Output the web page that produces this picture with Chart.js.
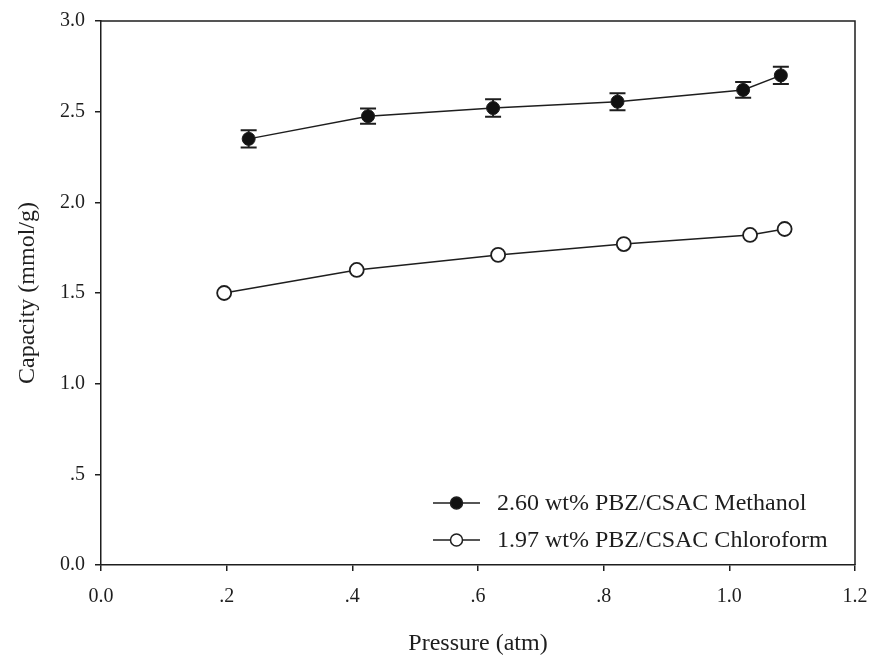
<!DOCTYPE html>
<html>
<head>
<meta charset="utf-8">
<script src="https://cdn.jsdelivr.net/npm/chart.js@4.4.1/dist/chart.umd.min.js"></script>
<style>
  body { margin: 0; background: #fff; }
  #canvas { display: block; }
</style>
</head>
<body>
<canvas id="canvas" width="870" height="656"></canvas>
<script>
// values
var seriesNames = ['2.60 wt% PBZ/CSAC Methanol', '1.97 wt% PBZ/CSAC Chloroform'];

var pressureMethanol = [0.235, 0.425, 0.624, 0.822, 1.022, 1.082];
var capacityMethanol = [2.35, 2.475, 2.52, 2.555, 2.62, 2.70];
var errorMethanol = [0.048, 0.042, 0.048, 0.047, 0.043, 0.048];

var pressureChloroform = [0.196, 0.407, 0.632, 0.832, 1.033, 1.088];
var capacityChloroform = [1.50, 1.627, 1.71, 1.77, 1.82, 1.853];

var xTickLabels = ['0.0', '.2', '.4', '.6', '.8', '1.0', '1.2'];
var yTickLabels = ['0.0', '.5', '1.0', '1.5', '2.0', '2.5', '3.0'];

var ink = '#1e1e1e';
var serif = 'Liberation Serif, Times New Roman, serif';

function toPoints(xs, ys) {
    var pts = [];
    for (var i = 0; i < xs.length; i++) {
        pts.push({ x: xs[i], y: ys[i] });
    }
    return pts;
}

// error bars for the methanol series
var errorBars = {
    id: 'errorBars',
    beforeDatasetsDraw: function (chart) {
        var ctx = chart.ctx;
        var xs = chart.scales.x, ys = chart.scales.y;
        ctx.save();
        ctx.strokeStyle = ink;
        ctx.lineWidth = 2;
        for (var i = 0; i < pressureMethanol.length; i++) {
            var px = xs.getPixelForValue(pressureMethanol[i]);
            var top = ys.getPixelForValue(capacityMethanol[i] + errorMethanol[i]);
            var bot = ys.getPixelForValue(capacityMethanol[i] - errorMethanol[i]);
            ctx.beginPath();
            ctx.moveTo(px, top); ctx.lineTo(px, bot);
            ctx.moveTo(px - 8, top); ctx.lineTo(px + 8, top);
            ctx.moveTo(px - 8, bot); ctx.lineTo(px + 8, bot);
            ctx.stroke();
        }
        ctx.restore();
    }
};

// frame on top and right, like the original plot box
var frame = {
    id: 'frame',
    afterDraw: function (chart) {
        var a = chart.chartArea, ctx = chart.ctx;
        ctx.save();
        ctx.strokeStyle = ink;
        ctx.lineWidth = 1.5;
        ctx.beginPath();
        ctx.moveTo(a.left, a.top);
        ctx.lineTo(a.right, a.top);
        ctx.lineTo(a.right, a.bottom);
        ctx.stroke();
        ctx.restore();
    }
};

// legend inside the plot, lower right
var innerLegend = {
    id: 'innerLegend',
    afterDatasetsDraw: function (chart) {
        var a = chart.chartArea, ctx = chart.ctx;
        var lineX0 = a.right - 422, lineX1 = a.right - 375, textX = a.right - 358;
        ctx.save();
        ctx.font = '24px ' + serif;
        ctx.textBaseline = 'middle';
        chart.data.datasets.forEach(function (ds, i) {
            var y = a.bottom - 62 + i * 37;
            var mx = (lineX0 + lineX1) / 2;
            ctx.strokeStyle = ink;
            ctx.lineWidth = 1.5;
            ctx.beginPath();
            ctx.moveTo(lineX0, y); ctx.lineTo(lineX1, y);
            ctx.stroke();
            ctx.beginPath();
            ctx.arc(mx, y, 6, 0, Math.PI * 2);
            ctx.fillStyle = ds.pointBackgroundColor;
            ctx.fill();
            ctx.stroke();
            ctx.fillStyle = ink;
            ctx.fillText(ds.label, textX, y + 1);
        });
        ctx.restore();
    }
};

var ctx = document.getElementById('canvas').getContext('2d');
var chart = new Chart(ctx, {
    type: 'line',
    data: {
        datasets: [{
            label: seriesNames[0],
            data: toPoints(pressureMethanol, capacityMethanol),
            borderColor: ink,
            borderWidth: 1.5,
            pointRadius: 6.5,
            pointBackgroundColor: '#111',
            pointBorderColor: ink,
            pointBorderWidth: 1,
            tension: 0
        }, {
            label: seriesNames[1],
            data: toPoints(pressureChloroform, capacityChloroform),
            borderColor: ink,
            borderWidth: 1.5,
            pointRadius: 7,
            pointBackgroundColor: '#fff',
            pointBorderColor: ink,
            pointBorderWidth: 1.8,
            tension: 0
        }]
    },
    options: {
        responsive: false,
        animation: false,
        layout: { padding: { top: 21, right: 15, left: 0, bottom: 0 } },
        plugins: {
            legend: { display: false },
            tooltip: { enabled: false }
        },
        scales: {
            x: {
                type: 'linear',
                min: 0, max: 1.2,
                border: { color: ink, width: 1.5 },
                grid: { drawOnChartArea: false, color: ink, lineWidth: 1.5, tickLength: 6 },
                ticks: {
                    stepSize: 0.2,
                    padding: 14,
                    color: ink,
                    font: { family: serif, size: 20 },
                    callback: function (v, i) { return xTickLabels[i]; }
                },
                title: {
                    display: true,
                    text: 'Pressure (atm)',
                    color: ink,
                    font: { family: serif, size: 24, lineHeight: 1 },
                    padding: { top: 0, bottom: 0 }
                },
                afterFit: function (s) {
                    s.height = 91;
                    s.paddingLeft = 0;
                    s.paddingRight = 0;
                }
            },
            y: {
                min: 0, max: 3,
                border: { color: ink, width: 1.5 },
                grid: { drawOnChartArea: false, color: ink, lineWidth: 1.5, tickLength: 6 },
                ticks: {
                    stepSize: 0.5,
                    padding: 10,
                    color: ink,
                    font: { family: serif, size: 20 },
                    callback: function (v, i) { return yTickLabels[i]; }
                },
                title: {
                    display: true,
                    text: 'Capacity (mmol/g)',
                    color: ink,
                    font: { family: serif, size: 24, lineHeight: 1 },
                    padding: { top: 16, bottom: 0 }
                },
                afterFit: function (s) {
                    s.width = 101;
                    s.paddingTop = 0;
                    s.paddingBottom = 0;
                }
            }
        }
    },
    plugins: [errorBars, frame, innerLegend]
});
</script>
</body>
</html>
